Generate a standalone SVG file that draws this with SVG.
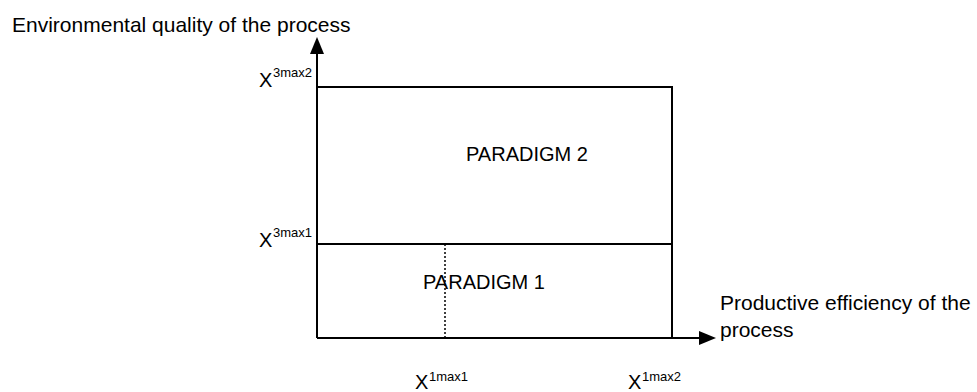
<svg xmlns="http://www.w3.org/2000/svg" width="977" height="392" viewBox="0 0 977 392">
<defs>
<style>
text { font-family: "Liberation Sans", Arial, sans-serif; fill: #000; }
.lbl { font-size: 21px; }
.par { font-size: 20px; }
.x { font-size: 20px; }
.sup { font-size: 13px; }
.ln { stroke: #000; stroke-width: 2; fill: none; }
</style>
<marker id="arr" viewBox="0 0 10 10" refX="9" refY="5" markerWidth="8" markerHeight="8" markerUnits="userSpaceOnUse" orient="auto">
<path d="M0,0 L10,5 L0,10 z" fill="#000"/>
</marker>
</defs>
<rect width="977" height="392" fill="#fff"/>
<g id="connectors">
<path class="ln" d="M317,338 L317,40"/>
<polygon points="317,37 310,54 324,54" fill="#000"/>
<path class="ln" d="M317,338 L700,338"/>
<polygon points="716,338 699,331 699,345" fill="#000"/>
<path d="M445,244 L445,338" stroke="#000" stroke-width="1.5" stroke-dasharray="2,2" fill="none"/>
</g>
<g id="paradigm2">
<path class="ln" d="M317,87 L672,87 L672,338"/>
<text class="par" x="466" y="161">PARADIGM 2</text>
</g>
<g id="paradigm1">
<path class="ln" d="M317,244 L672,244"/>
<text class="par" x="423" y="289">PARADIGM 1</text>
</g>
<g id="y-axis-label">
<text class="lbl" x="12" y="32">Environmental quality of the process</text>
</g>
<g id="x-axis-label">
<text class="lbl" x="720" y="310">Productive efficiency of the</text>
<text class="lbl" x="720" y="337">process</text>
</g>
<g id="x3max2"><text class="x" x="259" y="87">X</text><text class="sup" x="273" y="77">3max2</text></g>
<g id="x3max1"><text class="x" x="259" y="247">X</text><text class="sup" x="273" y="237">3max1</text></g>
<g id="x1max1"><text class="x" x="415" y="389">X</text><text class="sup" x="429" y="381">1max1</text></g>
<g id="x1max2"><text class="x" x="628" y="389">X</text><text class="sup" x="642" y="381">1max2</text></g>
</svg>
